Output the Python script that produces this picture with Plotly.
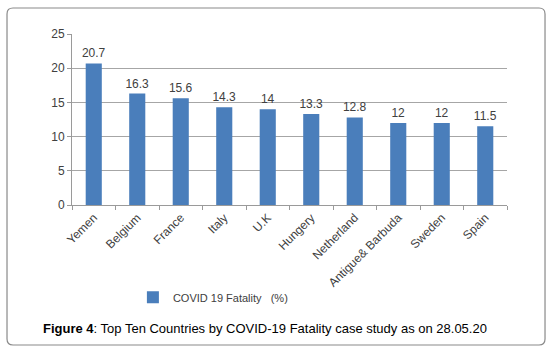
import plotly.graph_objects as go

countries = ["Yemen", "Belgium", "France", "Italy", "U.K", "Hungery",
             "Netherland", "Antigue& Barbuda", "Sweden", "Spain"]
fatality = [20.7, 16.3, 15.6, 14.3, 14, 13.3, 12.8, 12, 12, 11.5]
value_labels = ["20.7", "16.3", "15.6", "14.3", "14", "13.3", "12.8", "12", "12", "11.5"]
y_ticks = [0, 5, 10, 15, 20, 25]

# plot area: 435 x 171 px starting at (72, 34)
x0, x1, y0, y1 = -0.1494, 1.0874, -0.8187, 1.152
rx, ry = 0.0138, 0.0351
frame = (f"M {x0+rx},{y1} L {x1-rx},{y1} Q {x1},{y1} {x1},{y1-ry} "
         f"L {x1},{y0+ry} Q {x1},{y0} {x1-rx},{y0} L {x0+rx},{y0} "
         f"Q {x0},{y0} {x0},{y0+ry} L {x0},{y1-ry} Q {x0},{y1} {x0+rx},{y1} Z")

fig = go.Figure()
fig.add_trace(go.Bar(
    x=countries, y=fatality, name="COVID 19 Fatality   (%)",
    marker=dict(color="#4A7EBB", line=dict(width=0)),
    text=value_labels, textposition="outside", cliponaxis=False,
    constraintext="none",
    textfont=dict(family="Liberation Sans, Arial", size=12, color="#404040"),
))

fig.update_layout(
    width=551, height=351,
    margin=dict(l=72, r=44, t=34, b=146),
    paper_bgcolor="white", plot_bgcolor="white",
    bargap=0.63,
    showlegend=True,
    legend=dict(orientation="h", x=0.14, y=-0.54, xanchor="left", yanchor="middle",
                font=dict(family="Liberation Sans, Arial", size=11, color="#404040"),
                bgcolor="rgba(0,0,0,0)"),
    xaxis=dict(type="category", showline=True, linecolor="#9a9a9a", linewidth=1,
               ticks="outside", tickson="boundaries", ticklen=4, tickcolor="#9a9a9a",
               tickangle=-45, showgrid=False, automargin=False,
               tickfont=dict(family="Liberation Sans, Arial", size=12, color="#404040")),
    yaxis=dict(range=[0, 25], tickvals=y_ticks, showline=True, linecolor="#9a9a9a",
               ticks="outside", ticklen=4, tickcolor="#9a9a9a", automargin=False,
               showgrid=True, gridcolor="#a6a6a6", gridwidth=1, zeroline=False,
               tickfont=dict(family="Liberation Sans, Arial", size=12, color="#404040")),
    shapes=[dict(
        type="path", xref="paper", yref="paper", path=frame,
        line=dict(color="#8a8a8a", width=1.2), fillcolor="rgba(0,0,0,0)", layer="above",
    )],
    annotations=[dict(
        xref="paper", yref="paper", x=0.444, y=-0.72, xanchor="center", yanchor="middle",
        showarrow=False,
        text="<b>Figure 4</b>: Top Ten Countries by COVID-19 Fatality case study as on 28.05.20",
        font=dict(family="Liberation Sans, Arial", size=13, color="black"),
    )],
)

fig.write_html("out.html", config={"displayModeBar": False},
               post_script="document.body.style.margin='0';")
